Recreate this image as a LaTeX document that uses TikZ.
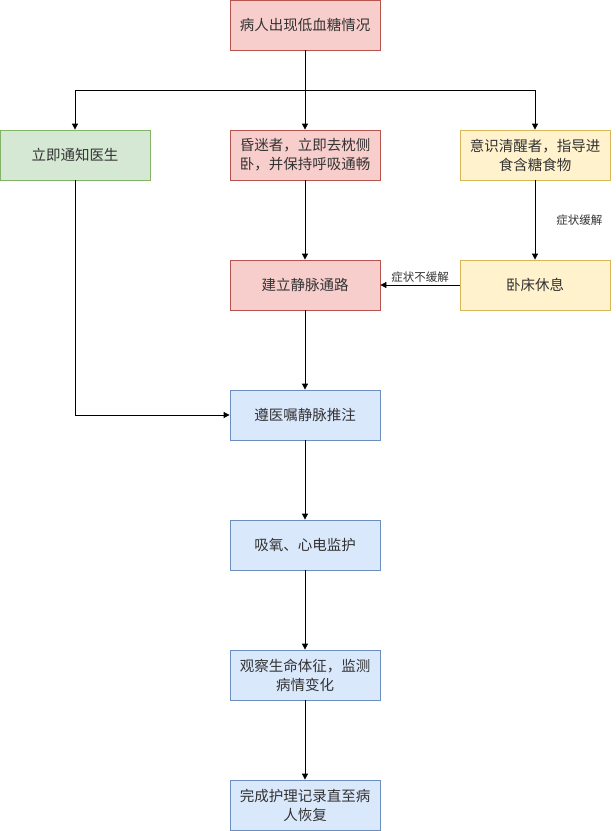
\documentclass[tikz,border=0pt]{standalone}
\usepackage{fontspec}
\setmainfont{Noto Sans CJK SC}
\usetikzlibrary{arrows.meta}
\definecolor{redfill}{HTML}{F8CECC}\definecolor{redline}{HTML}{B85450}
\definecolor{greenfill}{HTML}{D5E8D4}\definecolor{greenline}{HTML}{82B366}
\definecolor{yelfill}{HTML}{FFF2CC}\definecolor{yelline}{HTML}{D6B656}
\definecolor{bluefill}{HTML}{DAE8FC}\definecolor{blueline}{HTML}{6C8EBF}
\definecolor{txt}{HTML}{333333}
\begin{document}
\begin{tikzpicture}[x=1pt,y=-1pt,
  box/.style={draw,minimum width=150pt,minimum height=50pt,inner sep=0pt,align=center,
    font=\fontsize{14.5}{19}\selectfont,text=txt,line width=0.8pt},
  redbox/.style={box,fill=redfill,draw=redline},
  greenbox/.style={box,fill=greenfill,draw=greenline},
  yelbox/.style={box,fill=yelfill,draw=yelline},
  bluebox/.style={box,fill=bluefill,draw=blueline},
  conn/.style={line width=0.8pt,-{Triangle[length=6pt,width=6pt]}},
  plain/.style={line width=0.8pt},
  lbl/.style={font=\fontsize{11.5}{13}\selectfont,fill=white,inner sep=1pt,text=txt}]
\useasboundingbox (0,0) rectangle (616,831);
\node[redbox] (top) at (305,25) {病人出现低血糖情况};
\node[greenbox] (doc) at (75,155) {立即通知医生};
\node[redbox] (coma) at (305,155) {昏迷者，立即去枕侧\\卧，并保持呼吸通畅};
\node[yelbox] (aware) at (535,155) {意识清醒者，指导进\\食含糖食物};
\node[redbox] (iv) at (305,285) {建立静脉通路};
\node[yelbox] (rest) at (535,285) {卧床休息};
\node[bluebox] (push) at (305,415) {遵医嘱静脉推注};
\node[bluebox] (oxy) at (305,545) {吸氧、心电监护};
\node[bluebox] (obs) at (305,675) {观察生命体征，监测\\病情变化};
\node[bluebox] (rec) at (305,805) {完成护理记录直至病\\人恢复};
\coordinate (split) at (305,90);
\draw[plain] (top.south) -- (split);
\draw[conn] (split) -| (doc.north);
\draw[conn] (split) -- (coma.north);
\draw[conn] (split) -| (aware.north);
\draw[conn] (coma.south) -- (iv.north);
\draw[conn] (aware.south) -- node[lbl,right=20pt,pos=0.5]{症状缓解} (rest.north);
\draw[conn] (rest.west) -- node[lbl,above=1pt]{症状不缓解} (iv.east);
\draw[conn] (doc.south) |- (push.west);
\draw[conn] (iv.south) -- (push.north);
\draw[conn] (push.south) -- (oxy.north);
\draw[conn] (oxy.south) -- (obs.north);
\draw[conn] (obs.south) -- (rec.north);
\end{tikzpicture}
\end{document}
